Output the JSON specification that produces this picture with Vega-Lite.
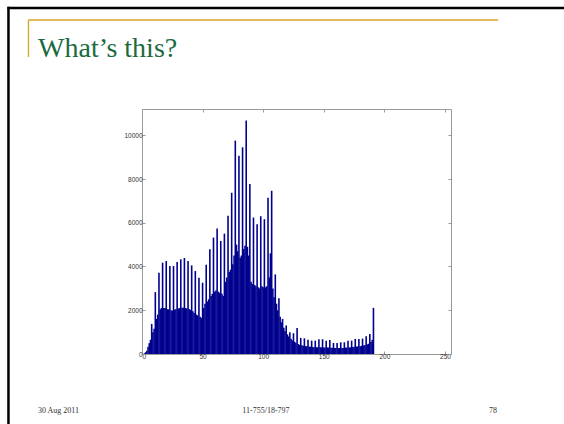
{
  "$schema": "https://vega.github.io/schema/vega-lite/v6.json",
  "width": 309,
  "height": 245,
  "autosize": {"type": "none"},
  "padding": {"left": 142, "top": 109, "right": 113, "bottom": 70},
  "background": "white",
  "config": {
    "view": {"stroke": "#9a9a9a", "strokeWidth": 1},
    "axis": {"domain": false, "grid": false, "labelFont": "Liberation Sans", "labelFontSize": 6.5, "labelColor": "#333333", "tickColor": "#9a9a9a", "tickSize": -3, "title": null, "format": "d"}
  },
  "datasets": {
    "hist": [
      {"bin":0,"count":0},{"bin":1,"count":0},{"bin":2,"count":30},{"bin":3,"count":80},{"bin":4,"count":150},{"bin":5,"count":330},{"bin":6,"count":500},{"bin":7,"count":650},{"bin":8,"count":1376},{"bin":9,"count":1000},
      {"bin":10,"count":1150},{"bin":11,"count":2829},{"bin":12,"count":1600},{"bin":13,"count":1800},{"bin":14,"count":3716},{"bin":15,"count":2050},{"bin":16,"count":2100},{"bin":17,"count":4174},{"bin":18,"count":2100},{"bin":19,"count":2100},
      {"bin":20,"count":4250},{"bin":21,"count":2050},{"bin":22,"count":2040},{"bin":23,"count":4021},{"bin":24,"count":2000},{"bin":25,"count":1980},{"bin":26,"count":4021},{"bin":27,"count":2030},{"bin":28,"count":2050},{"bin":29,"count":4205},
      {"bin":30,"count":2080},{"bin":31,"count":2100},{"bin":32,"count":4327},{"bin":33,"count":2120},{"bin":34,"count":2110},{"bin":35,"count":4388},{"bin":36,"count":2100},{"bin":37,"count":2080},{"bin":38,"count":4250},{"bin":39,"count":2050},
      {"bin":40,"count":2020},{"bin":41,"count":4052},{"bin":42,"count":1950},{"bin":43,"count":1880},{"bin":44,"count":3792},{"bin":45,"count":1800},{"bin":46,"count":1760},{"bin":47,"count":3486},{"bin":48,"count":1700},{"bin":49,"count":1650},
      {"bin":50,"count":3257},{"bin":51,"count":2100},{"bin":52,"count":2300},{"bin":53,"count":4082},{"bin":54,"count":2400},{"bin":55,"count":2500},{"bin":56,"count":4786},{"bin":57,"count":2650},{"bin":58,"count":2750},{"bin":59,"count":5321},
      {"bin":60,"count":2850},{"bin":61,"count":2900},{"bin":62,"count":5734},{"bin":63,"count":2850},{"bin":64,"count":2800},{"bin":65,"count":5168},{"bin":66,"count":2750},{"bin":67,"count":2650},{"bin":68,"count":5504},{"bin":69,"count":3300},
      {"bin":70,"count":3500},{"bin":71,"count":6315},{"bin":72,"count":3750},{"bin":73,"count":3850},{"bin":74,"count":7370},{"bin":75,"count":4100},{"bin":76,"count":4500},{"bin":77,"count":9755},{"bin":78,"count":5000},{"bin":79,"count":4700},
      {"bin":80,"count":9067},{"bin":81,"count":4400},{"bin":82,"count":4500},{"bin":83,"count":9449},{"bin":84,"count":4800},{"bin":85,"count":4950},{"bin":86,"count":10673},{"bin":87,"count":4900},{"bin":88,"count":4500},{"bin":89,"count":7767},
      {"bin":90,"count":3300},{"bin":91,"count":3200},{"bin":92,"count":6238},{"bin":93,"count":3150},{"bin":94,"count":3100},{"bin":95,"count":5932},{"bin":96,"count":3050},{"bin":97,"count":3000},{"bin":98,"count":6300},{"bin":99,"count":3100},
      {"bin":100,"count":3050},{"bin":101,"count":6162},{"bin":102,"count":3050},{"bin":103,"count":3100},{"bin":104,"count":7140},{"bin":105,"count":3500},{"bin":106,"count":4600},{"bin":107,"count":7461},{"bin":108,"count":3000},{"bin":109,"count":2600},
      {"bin":110,"count":3639},{"bin":111,"count":2300},{"bin":112,"count":2000},{"bin":113,"count":2553},{"bin":114,"count":1700},{"bin":115,"count":1450},{"bin":116,"count":1605},{"bin":117,"count":1200},{"bin":118,"count":1050},{"bin":119,"count":1300},
      {"bin":120,"count":900},{"bin":121,"count":800},{"bin":122,"count":994},{"bin":123,"count":700},{"bin":124,"count":620},{"bin":125,"count":948},{"bin":126,"count":560},{"bin":127,"count":500},{"bin":128,"count":1193},{"bin":129,"count":450},
      {"bin":130,"count":420},{"bin":131,"count":734},{"bin":132,"count":400},{"bin":133,"count":380},{"bin":134,"count":718},{"bin":135,"count":360},{"bin":136,"count":350},{"bin":137,"count":657},{"bin":138,"count":340},{"bin":139,"count":330},
      {"bin":140,"count":611},{"bin":141,"count":320},{"bin":142,"count":310},{"bin":143,"count":611},{"bin":144,"count":310},{"bin":145,"count":310},{"bin":146,"count":673},{"bin":147,"count":310},{"bin":148,"count":305},{"bin":149,"count":673},
      {"bin":150,"count":300},{"bin":151,"count":300},{"bin":152,"count":611},{"bin":153,"count":300},{"bin":154,"count":295},{"bin":155,"count":642},{"bin":156,"count":290},{"bin":157,"count":280},{"bin":158,"count":504},{"bin":159,"count":275},
      {"bin":160,"count":270},{"bin":161,"count":504},{"bin":162,"count":270},{"bin":163,"count":275},{"bin":164,"count":535},{"bin":165,"count":280},{"bin":166,"count":280},{"bin":167,"count":535},{"bin":168,"count":290},{"bin":169,"count":295},
      {"bin":170,"count":611},{"bin":171,"count":300},{"bin":172,"count":305},{"bin":173,"count":611},{"bin":174,"count":320},{"bin":175,"count":330},{"bin":176,"count":688},{"bin":177,"count":340},{"bin":178,"count":350},{"bin":179,"count":688},
      {"bin":180,"count":360},{"bin":181,"count":370},{"bin":182,"count":703},{"bin":183,"count":390},{"bin":184,"count":410},{"bin":185,"count":810},{"bin":186,"count":440},{"bin":187,"count":470},{"bin":188,"count":917},{"bin":189,"count":550},
      {"bin":190,"count":650},{"bin":191,"count":2110}
    ],
    "texts": [
      {"label": "What’s this?", "role": "title"},
      {"label": "30 Aug 2011", "role": "left"},
      {"label": "11-755/18-797", "role": "center"},
      {"label": "78", "role": "right"}
    ]
  },
  "layer": [
    {
      "data": {"name": "hist"},
      "mark": {"type": "bar", "width": 1.6, "color": "#00008f"},
      "encoding": {
        "x": {"field": "bin", "type": "quantitative", "scale": {"domain": [0, 255], "nice": false, "zero": false, "padding": 0},
              "axis": {"orient": "bottom", "values": [0, 50, 100, 150, 200, 250], "labelPadding": 2}},
        "y": {"field": "count", "type": "quantitative", "scale": {"domain": [0, 11200], "nice": false},
              "axis": {"orient": "left", "values": [0, 2000, 4000, 6000, 8000, 10000], "labelPadding": 3}}
      }
    },
    {
      "data": {"values": [{"k": 1}]},
      "mark": {"type": "point", "opacity": 0},
      "encoding": {
        "x": {"datum": 0, "type": "quantitative", "axis": {"orient": "top", "values": [0, 50, 100, 150, 200, 250], "labels": false}},
        "y": {"datum": 0, "type": "quantitative", "axis": {"orient": "right", "values": [0, 2000, 4000, 6000, 8000, 10000], "labels": false}}
      }
    },
    {
      "data": {"values": [{"k": 1}]},
      "mark": {"type": "rule", "color": "#000000", "strokeWidth": 2.5},
      "encoding": {
        "y": {"datum": 15817, "type": "quantitative", "axis": null},
        "x": {"datum": -111, "type": "quantitative", "axis": null},
        "x2": {"datum": 352}
      }
    },
    {
      "data": {"values": [{"k": 1}]},
      "mark": {"type": "rule", "color": "#000000", "strokeWidth": 2.5},
      "encoding": {
        "x": {"datum": -110.2, "type": "quantitative", "axis": null},
        "y": {"datum": 15870, "type": "quantitative", "axis": null},
        "y2": {"datum": -3200}
      }
    },
    {
      "data": {"values": [{"k": 1}]},
      "mark": {"type": "rule", "color": "#d9a520", "strokeWidth": 1.3},
      "encoding": {
        "y": {"datum": 15269, "type": "quantitative", "axis": null},
        "x": {"datum": -93.7, "type": "quantitative", "axis": null},
        "x2": {"datum": 293.8}
      }
    },
    {
      "data": {"values": [{"k": 1}]},
      "mark": {"type": "rule", "color": "#d9a520", "strokeWidth": 1.3},
      "encoding": {
        "x": {"datum": -93.7, "type": "quantitative", "axis": null},
        "y": {"datum": 15269, "type": "quantitative", "axis": null},
        "y2": {"datum": 13577}
      }
    },
    {
      "data": {"name": "texts"},
      "transform": [{"filter": "datum.role === 'title'"}],
      "mark": {"type": "text", "align": "left", "baseline": "alphabetic", "font": "Liberation Serif", "fontSize": 28, "color": "#1b6b3f"},
      "encoding": {
        "x": {"datum": -85.8, "type": "quantitative", "axis": null},
        "y": {"datum": 13577, "type": "quantitative", "axis": null},
        "text": {"field": "label"}
      }
    },
    {
      "data": {"name": "texts"},
      "transform": [{"filter": "datum.role === 'left'"}],
      "mark": {"type": "text", "align": "left", "baseline": "alphabetic", "font": "Liberation Serif", "fontSize": 8, "color": "#333333"},
      "encoding": {
        "x": {"datum": -85.8, "type": "quantitative", "axis": null},
        "y": {"datum": -2697, "type": "quantitative", "axis": null},
        "text": {"field": "label"}
      }
    },
    {
      "data": {"name": "texts"},
      "transform": [{"filter": "datum.role === 'center'"}],
      "mark": {"type": "text", "align": "center", "baseline": "alphabetic", "font": "Liberation Serif", "fontSize": 8, "color": "#333333"},
      "encoding": {
        "x": {"datum": 102.3, "type": "quantitative", "axis": null},
        "y": {"datum": -2697, "type": "quantitative", "axis": null},
        "text": {"field": "label"}
      }
    },
    {
      "data": {"name": "texts"},
      "transform": [{"filter": "datum.role === 'right'"}],
      "mark": {"type": "text", "align": "right", "baseline": "alphabetic", "font": "Liberation Serif", "fontSize": 8, "color": "#333333"},
      "encoding": {
        "x": {"datum": 293.0, "type": "quantitative", "axis": null},
        "y": {"datum": -2697, "type": "quantitative", "axis": null},
        "text": {"field": "label"}
      }
    }
  ],
  "resolve": {"axis": {"x": "independent", "y": "independent"}}
}
